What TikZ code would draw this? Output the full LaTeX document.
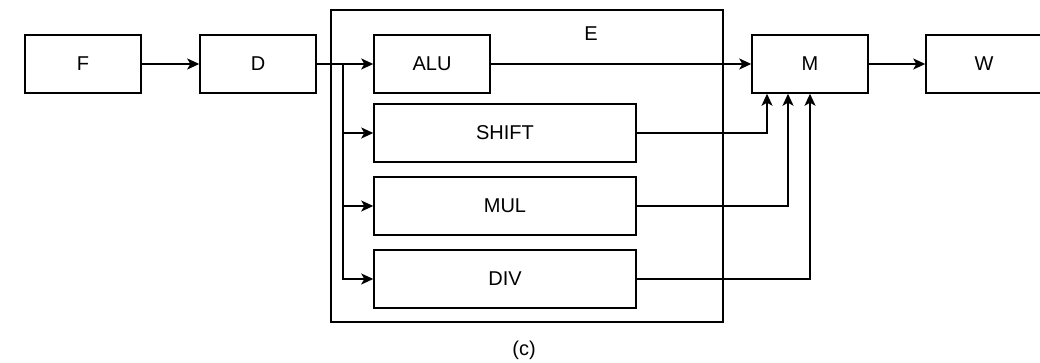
\documentclass[tikz,border=0pt]{standalone}
\usepackage{fontspec}
\setmainfont{Liberation Sans}
\usetikzlibrary{arrows.meta}
\begin{document}
\begin{tikzpicture}[x=1pt,y=1pt,
  blk/.style={draw, line width=1.5pt, minimum height=58pt, inner sep=0pt, font=\fontsize{20}{23}\selectfont},
  small/.style={blk, minimum width=116pt},
  wide/.style={blk, minimum width=262pt},
  arr/.style={line width=1.5pt, -{Stealth[length=12pt,width=11pt,inset=3pt]}},
  lbl/.style={font=\fontsize{20}{23}\selectfont, inner sep=0pt}]
\useasboundingbox (0,0) rectangle (1040,363);
\node[draw, line width=1.5pt, minimum width=392pt, minimum height=312pt, inner sep=0pt] (E) at (527,197) {};
\node[lbl] (Elbl) at (591,329) {E};
\node[small] (F) at (83,299) {F};
\node[small] (D) at (258,299) {D};
\node[small] (ALU) at (432,299) {ALU};
\node[wide] (SHIFT) at (505,230) {SHIFT};
\node[wide] (MUL) at (505,157) {MUL};
\node[wide] (DIV) at (505,84) {DIV};
\node[small] (M) at (810,299) {M};
\node[small] (W) at (984,299) {W};
\node[lbl] (cap) at (524,13) {(c)};
\coordinate (j) at (343,299);
\draw[arr] (F) -- (D);
\draw[arr] (D) -- (ALU);
\draw[arr] (j) |- (SHIFT.west);
\draw[arr] (j) |- (MUL.west);
\draw[arr] (j) |- (DIV.west);
\draw[arr] (ALU) -- (M);
\draw[arr] (M) -- (W);
\draw[arr] (SHIFT.east) -| ([xshift=-43pt]M.south);
\draw[arr] (MUL.east) -| ([xshift=-22pt]M.south);
\draw[arr] (DIV.east) -| (M.south);
\end{tikzpicture}
\end{document}
